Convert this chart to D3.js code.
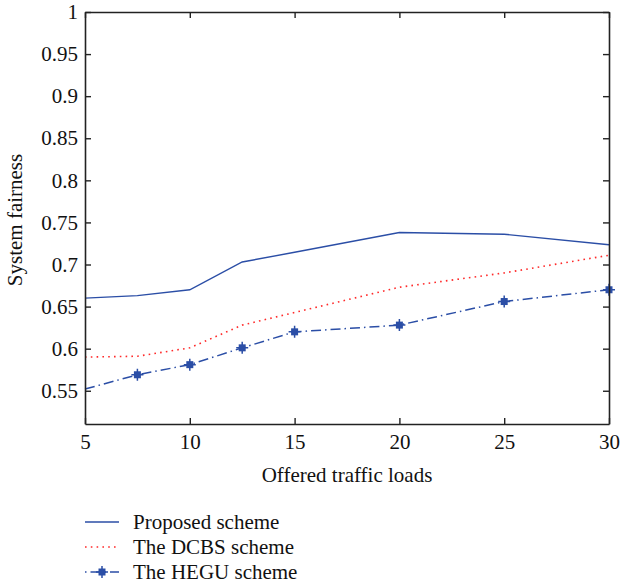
<!DOCTYPE html>
<html>
<head>
<meta charset="utf-8">
<script src="https://cdn.jsdelivr.net/npm/d3@7"></script>
<style>
  body { margin: 0; background: #fff; }
  svg { display: block; }
  text { font-family: "Liberation Serif", "DejaVu Serif", serif; fill: #111; }
</style>
</head>
<body>
<svg width="620" height="586"></svg>
<script>
// data
var loads = [5, 7.5, 10, 12.5, 15, 20, 25, 30];
var proposed = [0.660, 0.663, 0.670, 0.703, 0.7145, 0.738, 0.736, 0.7235];
var dcbs = [0.590, 0.591, 0.601, 0.628, 0.643, 0.673, 0.690, 0.711];
var hegu = [0.552, 0.569, 0.581, 0.601, 0.620, 0.628, 0.656, 0.670];
var heguMarked = [false, true, true, true, true, true, true, true];
var xTicks = [5, 10, 15, 20, 25, 30];
var yTicks = [0.55, 0.6, 0.65, 0.7, 0.75, 0.8, 0.85, 0.9, 0.95, 1];
var seriesNames = ["Proposed scheme", "The DCBS scheme", "The HEGU scheme"];

var svg = d3.select("svg");
var plotLeft = 85, plotRight = 609, plotTop = 12, plotBottom = 424;

var x = d3.scaleLinear().domain([5, 30]).range([plotLeft, plotRight]);
var y = d3.scaleLinear().domain([0.5105, 1]).range([plotBottom, plotTop]);

var blue = "#2b4ea6", red = "#ff2a2a";
var fontSize = "21px";

// series lines
var line = d3.line()
    .x(function (d) { return x(d[0]); })
    .y(function (d) { return y(d[1]); });

function pairs(vals) { return loads.map(function (l, i) { return [l, vals[i]]; }); }

var plot = svg.append("g");
plot.append("path").datum(pairs(proposed))
    .attr("d", line).attr("fill", "none")
    .attr("stroke", blue).attr("stroke-width", 1.4);
plot.append("path").datum(pairs(dcbs))
    .attr("d", line).attr("fill", "none")
    .attr("stroke", red).attr("stroke-width", 1.6)
    .attr("stroke-dasharray", "1.6,4.2");
plot.append("path").datum(pairs(hegu))
    .attr("d", line).attr("fill", "none")
    .attr("stroke", blue).attr("stroke-width", 1.5)
    .attr("stroke-dasharray", "10,4,1.5,4");

// markers: plus with a small filled square
function marker(g, cx, cy) {
    g.append("path")
        .attr("d", "M" + (cx - 6) + "," + cy + "H" + (cx + 6) + "M" + cx + "," + (cy - 6) + "V" + (cy + 6))
        .attr("stroke", blue).attr("stroke-width", 1.5);
    g.append("rect")
        .attr("x", cx - 3.5).attr("y", cy - 3.5)
        .attr("width", 7).attr("height", 7)
        .attr("fill", blue);
}
pairs(hegu).forEach(function (d, i) {
    if (heguMarked[i]) marker(plot, x(d[0]), y(d[1]));
});

// axes box with inward ticks on all sides
var axisG = svg.append("g");
axisG.append("g").attr("transform", "translate(0," + plotBottom + ")")
    .call(d3.axisBottom(x).tickValues(xTicks).tickSizeInner(-6).tickSizeOuter(0).tickPadding(10).tickFormat(d3.format("d")));
axisG.append("g").attr("transform", "translate(0," + plotTop + ")")
    .call(d3.axisTop(x).tickValues(xTicks).tickSizeInner(-6).tickSizeOuter(0).tickFormat(""));
axisG.append("g").attr("transform", "translate(" + plotLeft + ",0)")
    .call(d3.axisLeft(y).tickValues(yTicks).tickSizeInner(-6).tickSizeOuter(0).tickPadding(7)
        .tickFormat(function (d) { return String(+d.toFixed(2)); }));
axisG.append("g").attr("transform", "translate(" + plotRight + ",0)")
    .call(d3.axisRight(y).tickValues(yTicks).tickSizeInner(-6).tickSizeOuter(0).tickFormat(""));

axisG.selectAll(".domain").attr("stroke", "#222").attr("stroke-width", 1.6);
axisG.selectAll(".tick line").attr("stroke", "#222").attr("stroke-width", 1.4);
axisG.selectAll(".tick text")
    .style("font-family", "'Liberation Serif', serif")
    .style("font-size", fontSize).attr("fill", "#111");

// axis titles
svg.append("text")
    .attr("x", (plotLeft + plotRight) / 2).attr("y", 482)
    .attr("text-anchor", "middle")
    .style("font-size", fontSize)
    .text("Offered traffic loads");
svg.append("text")
    .attr("transform", "translate(22," + 220 + ") rotate(-90)")
    .attr("text-anchor", "middle")
    .style("font-size", fontSize)
    .text("System fairness");

// legend
var legendY = [522, 547, 572];
var leg = svg.append("g");
leg.append("line").attr("x1", 85).attr("x2", 119).attr("y1", legendY[0]).attr("y2", legendY[0])
    .attr("stroke", blue).attr("stroke-width", 1.4);
leg.append("line").attr("x1", 85).attr("x2", 119).attr("y1", legendY[1]).attr("y2", legendY[1])
    .attr("stroke", red).attr("stroke-width", 1.6).attr("stroke-dasharray", "1.6,4.2");
leg.append("line").attr("x1", 85).attr("x2", 119).attr("y1", legendY[2]).attr("y2", legendY[2])
    .attr("stroke", blue).attr("stroke-width", 1.5).attr("stroke-dasharray", "1.5,4,10,4");
marker(leg, 102, legendY[2]);
seriesNames.forEach(function (name, i) {
    leg.append("text")
        .attr("x", 133).attr("y", legendY[i])
        .attr("dy", "0.35em")
        .style("font-size", fontSize)
        .text(name);
});
</script>
</body>
</html>
